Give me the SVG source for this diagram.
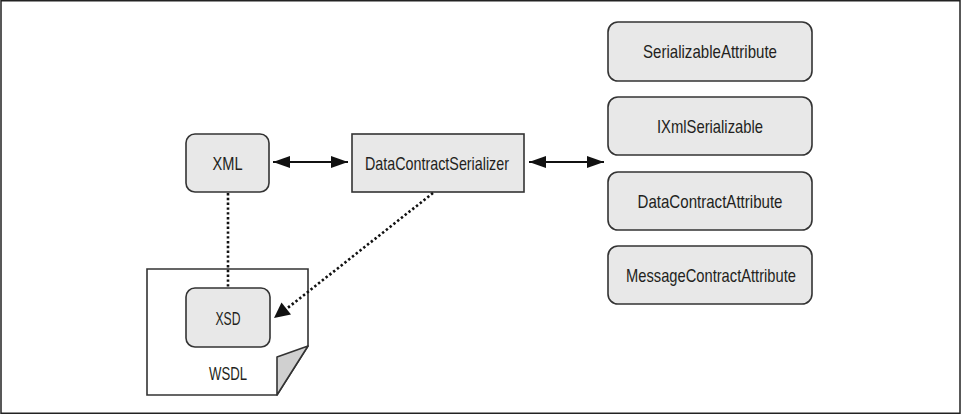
<svg xmlns="http://www.w3.org/2000/svg" width="963" height="416" viewBox="0 0 963 416">
<style>
.box{fill:#e8e8e8;stroke:#333;stroke-width:1.6}
.t{font-family:"Liberation Sans",Arial,sans-serif;font-size:19px;fill:#231f20;text-anchor:middle}
.solid{stroke:#111;stroke-width:2.2;fill:none}
.dot{stroke:#111;stroke-width:2.6;fill:none;stroke-dasharray:2.4 2.4}
</style>
<defs>
<marker id="ah" viewBox="0 0 17 12" refX="17" refY="6" markerWidth="17" markerHeight="12" markerUnits="userSpaceOnUse" orient="auto-start-reverse">
<path d="M0,0 L17,6 L0,12 z" fill="#111"/>
</marker>
</defs>
<rect x="1" y="0.75" width="959" height="412.5" fill="#fff" stroke="#222" stroke-width="1.5"/>
<g id="wsdl">
<path d="M147,269 H308 V346 L277,395 H147 Z" fill="#fff" stroke="#333" stroke-width="1.6"/>
<path d="M308,346 L277,357 L277,395 Z" fill="#d0d0d0" stroke="#333" stroke-width="1.6" stroke-linejoin="round"/>
<text class="t" x="228" y="380" textLength="38" lengthAdjust="spacingAndGlyphs">WSDL</text>
</g>
<g id="xml">
<rect class="box" x="186" y="134" width="83" height="58" rx="9"/>
<text class="t" x="227.5" y="170" textLength="30" lengthAdjust="spacingAndGlyphs">XML</text>
</g>
<g id="dcs">
<rect class="box" x="352" y="134" width="172" height="58"/>
<text class="t" x="437" y="170" textLength="144" lengthAdjust="spacingAndGlyphs">DataContractSerializer</text>
</g>
<g id="xsd">
<rect class="box" x="186" y="288" width="84" height="59" rx="9"/>
<text class="t" x="228" y="325" textLength="25" lengthAdjust="spacingAndGlyphs">XSD</text>
</g>
<g id="serializable">
<rect class="box" x="608" y="22" width="204" height="59" rx="10"/>
<text class="t" x="710" y="58" textLength="134" lengthAdjust="spacingAndGlyphs">SerializableAttribute</text>
</g>
<g id="ixml">
<rect class="box" x="608" y="97" width="204" height="58" rx="10"/>
<text class="t" x="710" y="133" textLength="106" lengthAdjust="spacingAndGlyphs">IXmlSerializable</text>
</g>
<g id="dca">
<rect class="box" x="608" y="172" width="204" height="58" rx="10"/>
<text class="t" x="710" y="208" textLength="145" lengthAdjust="spacingAndGlyphs">DataContractAttribute</text>
</g>
<g id="mca">
<rect class="box" x="608" y="246" width="204" height="58" rx="10"/>
<text class="t" x="711" y="282" textLength="170" lengthAdjust="spacingAndGlyphs">MessageContractAttribute</text>
</g>
<g id="connectors">
<line class="solid" x1="273" y1="162" x2="348" y2="162" marker-start="url(#ah)" marker-end="url(#ah)"/>
<line class="solid" x1="529" y1="162" x2="604" y2="162" marker-start="url(#ah)" marker-end="url(#ah)"/>
<line class="dot" x1="228" y1="193" x2="228" y2="288"/>
<line class="dot" x1="433" y1="193" x2="285" y2="310"/>
<path d="M274,318 L281.5,302.5 L291,314.5 Z" fill="#111"/>
</g>
</svg>
